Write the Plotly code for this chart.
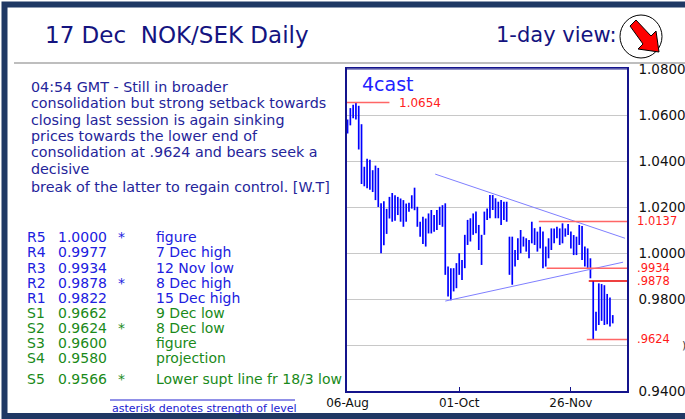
import plotly.graph_objects as go

# ---------------- data ----------------
bar_high = [1.0580, 1.0630, 1.0645, 1.0654, 1.0640, 1.0560, 1.0375, 1.0410, 1.0405, 1.0360,
            1.0380, 1.0370, 1.0216, 1.0225, 1.0192, 1.0244, 1.0261, 1.0251, 1.0244, 1.0237,
            1.0230, 1.0215, 1.0218, 1.0251, 1.0284, 1.0201, 1.0136, 1.0158, 1.0150, 1.0172,
            1.0187, 1.0165, 1.0187, 1.0201, 1.0208, 1.0216, 0.9941, 0.9934, 0.9934, 0.9956,
            0.9999, 0.9970, 1.0079, 1.0144, 1.0151, 1.0172, 1.0180, 1.0122, 1.0079, 1.0180,
            1.0194, 1.0252, 1.0252, 1.0238, 1.0223, 1.0230, 1.0223, 1.0223, 1.0071, 1.0071,
            1.0013, 1.0064, 1.0100, 1.0071, 1.0064, 1.0057, 1.0136, 1.0108, 1.0093, 1.0114,
            1.0093, 1.0028, 1.0064, 1.0107, 1.0107, 1.0114, 1.0107, 1.0129, 1.0107, 1.0126,
            1.0093, 1.0078, 1.0071, 1.0122, 1.0117, 1.0028, 1.0020, 0.9977, 0.9878, 0.9745,
            0.9868, 0.9865, 0.9860, 0.9822, 0.9806, 0.9730]
bar_low = [1.0520, 1.0555, 1.0586, 1.0580, 1.0450, 1.0300, 1.0290, 1.0282, 1.0275, 1.0265,
           1.0230, 1.0200, 0.9999, 1.0034, 1.0083, 1.0150, 1.0136, 1.0140, 1.0165, 1.0136,
           1.0114, 1.0136, 1.0179, 1.0193, 1.0186, 1.0114, 1.0071, 1.0039, 1.0028, 1.0085,
           1.0085, 1.0092, 1.0100, 1.0122, 1.0114, 0.9905, 0.9811, 0.9795, 0.9833, 0.9847,
           0.9905, 0.9883, 0.9934, 1.0035, 1.0050, 1.0079, 1.0086, 1.0013, 0.9948, 1.0079,
           1.0144, 1.0151, 1.0187, 1.0151, 1.0151, 1.0122, 1.0144, 1.0136, 0.9905, 0.9862,
           0.9941, 0.9970, 0.9999, 1.0028, 1.0006, 0.9977, 1.0042, 1.0035, 1.0006, 1.0020,
           0.9934, 0.9941, 0.9977, 1.0013, 1.0042, 1.0064, 1.0035, 1.0042, 1.0071, 1.0078,
           1.0020, 0.9991, 0.9991, 1.0035, 0.9970, 0.9941, 0.9930, 0.9890, 0.9624, 0.9662,
           0.9687, 0.9705, 0.9687, 0.9690, 0.9680, 0.9694]

x_tick_pos = [0, 40, 80]
x_tick_labels = ["06-Aug", "01-Oct", "26-Nov"]
y_tick_vals = [0.94, 0.96, 0.98, 1.00, 1.02, 1.04, 1.06, 1.08]
y_tick_labels = ["0.9400", "", "0.9800", "1.0000", "1.0200", "1.0400", "1.0600", "1.0800"]

# marked levels (value, bar index where the line starts, label)
mark_vals = [1.0137, 0.9934, 0.9878, 0.9624]
mark_start = [68.5, 71.3, 86.4, 85.7]
mark_labels = ["1.0137", ".9934", ".9878", ".9624"]
peak_val = 1.0654
peak_end = 15.0
peak_label = "1.0654"

# trend lines (bar index, value)
upper_x = [31.4, 99.4]
upper_y = [1.0343, 1.0064]
lower_x = [35.0, 98.7]
lower_y = [0.9791, 0.9960]

comment_lines = [
    "04:54 GMT - Still in broader",
    "consolidation but strong setback towards",
    "closing last session is again sinking",
    "prices towards the lower end of",
    "consolidation at .9624 and bears seek a",
    "decisive",
    "break of the latter to regain control. [W.T]",
]
lvl_names = ["R5", "R4", "R3", "R2", "R1", "S1", "S2", "S3", "S4", "S5"]
lvl_values = ["1.0000", "0.9977", "0.9934", "0.9878", "0.9822", "0.9662", "0.9624", "0.9600", "0.9580", "0.9566"]
lvl_stars = ["*", "", "", "*", "", "", "*", "", "", "*"]
lvl_desc = ["figure", "7 Dec high", "12 Nov low", "8 Dec high", "15 Dec high", "9 Dec low",
            "8 Dec low", "figure", "projection", "Lower supt line fr 18/3 low"]

# ---------------- layout helpers ----------------
W, H = 685, 419
PL, PR, PT, PB = 347, 627, 69, 391
FONT = "DejaVu Sans, Liberation Sans, Arial, sans-serif"


def px(x):
    return (x - PL) / (PR - PL)


def py(y):
    return (PB - y) / (PB - PT)


X_MIN, X_MAX = -0.2, 100.1

fig = go.Figure()

# bars
bx, by = [], []
for i, (h, l) in enumerate(zip(bar_high, bar_low)):
    bx += [i, i, None]
    by += [h, l, None]
fig.add_trace(go.Scatter(x=bx, y=by, mode="lines", line=dict(color="#0000ff", width=1.7),
                         hoverinfo="skip", showlegend=False))

# trend lines
for xs, ys in [(upper_x, upper_y), (lower_x, lower_y)]:
    fig.add_trace(go.Scatter(x=xs, y=ys, mode="lines", line=dict(color="#7f7fff", width=1),
                             hoverinfo="skip", showlegend=False))

# level lines
fig.add_trace(go.Scatter(x=[X_MIN, peak_end], y=[peak_val, peak_val], mode="lines",
                         line=dict(color="#ff6666", width=1.5), hoverinfo="skip", showlegend=False))
for v, s in zip(mark_vals, mark_start):
    col = "#e80000" if v == 0.9878 else "#ff6666"
    fig.add_trace(go.Scatter(x=[s, X_MAX], y=[v, v], mode="lines",
                             line=dict(color=col, width=1.5), hoverinfo="skip", showlegend=False))

ann = []
ann.append(dict(x=peak_end + 2.8, y=peak_val, xref="x", yref="y", text=peak_label, showarrow=False,
                xanchor="left", yanchor="middle", font=dict(family=FONT, size=12, color="#ff2020")))
for v, t in zip(mark_vals, mark_labels):
    ann.append(dict(x=px(635), y=v, xref="paper", yref="y", text=t, showarrow=False,
                    xanchor="left", yanchor="middle", font=dict(family=FONT, size=11.5, color="#ff1a1a")))
# partly cut-off glyph at the right edge
ann.append(dict(x=px(680), y=py(345), xref="paper", yref="paper", text=")", showarrow=False,
                xanchor="left", yanchor="middle", font=dict(family=FONT, size=11, color="#333333")))

# 4cast
ann.append(dict(x=px(360), y=py(84), xref="paper", yref="paper", text="4cast", showarrow=False,
                xanchor="left", yanchor="middle", font=dict(family=FONT, size=19, color="#2222ff")))

# titles
ann.append(dict(x=px(43), y=py(35), xref="paper", yref="paper", text="17 Dec  NOK/SEK Daily",
                showarrow=False, xanchor="left", yanchor="middle",
                font=dict(family=FONT, size=23, color="#141480")))
ann.append(dict(x=px(494), y=py(35), xref="paper", yref="paper", text="1-day view:",
                showarrow=False, xanchor="left", yanchor="middle",
                font=dict(family=FONT, size=21, color="#141480")))

# comment block
comment_y = [87, 103.3, 119.6, 135.9, 152.2, 168.5, 186.5]
for t, yy in zip(comment_lines, comment_y):
    ann.append(dict(x=px(29), y=py(yy), xref="paper", yref="paper", text=t, showarrow=False,
                    xanchor="left", yanchor="middle", font=dict(family=FONT, size=14.3, color="#24249a")))

# levels table
row_y = [236.7, 252.3, 267.7, 282.7, 298.3, 313.3, 328.3, 343.3, 358.3, 379.3]
col_x = [25, 56, 116, 154]
for n, v, s, d, yy in zip(lvl_names, lvl_values, lvl_stars, lvl_desc, row_y):
    col = "#2020e0" if n.startswith("R") else "#1a8a1a"
    for txt, xx in zip([n, v, s, d], col_x):
        if txt:
            ann.append(dict(x=px(xx), y=py(yy), xref="paper", yref="paper", text=txt, showarrow=False,
                            xanchor="left", yanchor="middle",
                            font=dict(family=FONT, size=14, color=col)))

ann.append(dict(x=px(110), y=py(408), xref="paper", yref="paper",
                text="asterisk denotes strength of level", showarrow=False,
                xanchor="left", yanchor="middle", font=dict(family=FONT, size=11, color="#2020d0")))

shapes = [
    # frame
    dict(type="rect", xref="paper", yref="paper", x0=px(4.5), x1=px(720), y0=py(416), y1=py(4.5),
         line=dict(color="#1f3864", width=6), fillcolor="rgba(0,0,0,0)", layer="above"),
    # grey rule under title
    dict(type="line", xref="paper", yref="paper", x0=px(14), x1=px(700), y0=py(63), y1=py(63),
         line=dict(color="#a8a8a8", width=1.5)),
    # lighter top edge of the plot box
    dict(type="line", xref="paper", yref="paper", x0=0, x1=1, y0=1, y1=1,
         line=dict(color="#6c6cb4", width=1.6), layer="above"),
    # footer rule
    dict(type="line", xref="paper", yref="paper", x0=px(110), x1=px(295), y0=py(400), y1=py(400),
         line=dict(color="#2020d0", width=1)),
    # view circle
    dict(type="circle", xref="paper", yref="paper", x0=px(620), x1=px(662), y0=py(58), y1=py(15),
         line=dict(color="#000000", width=1), fillcolor="white"),
]
# red arrow pointing down-right
arrow_pts = [(630, 26), (636, 20), (651, 36), (656, 31), (659, 52), (638, 49), (643, 44), (630, 26)]
path = "M " + " L ".join(f"{px(a)},{py(b)}" for a, b in arrow_pts) + " Z"
shapes.append(dict(type="path", xref="paper", yref="paper", path=path,
                   line=dict(color="#000000", width=1), fillcolor="#ff0000"))

fig.update_layout(
    width=W, height=H, autosize=False,
    margin=dict(l=PL, r=W - PR, t=PT, b=H - PB, pad=0, autoexpand=False),
    paper_bgcolor="white", plot_bgcolor="white",
    showlegend=False,
    annotations=ann, shapes=shapes,
    xaxis=dict(range=[X_MIN, X_MAX], tickmode="array", tickvals=x_tick_pos, ticktext=x_tick_labels,
               showgrid=False, zeroline=False, showline=True, linecolor="#14148c", linewidth=1.5,
               mirror=True, ticks="inside", ticklen=4, tickcolor="#14148c", automargin=False,
               tickfont=dict(family=FONT, size=12, color="#111111")),
    yaxis=dict(range=[0.94, 1.08], side="right", tickmode="array", tickvals=y_tick_vals,
               ticktext=y_tick_labels, showgrid=True, gridcolor="#c8c8c8", gridwidth=1,
               zeroline=False, showline=True, linecolor="#14148c", linewidth=1.5, mirror=True,
               ticks="", ticklabelstandoff=7, automargin=False,
               tickfont=dict(family=FONT, size=13.5, color="#111111")),
)

fig.write_html("out.html", config={"displayModeBar": False},
               post_script="document.body.style.margin='0px';document.body.style.overflow='hidden';")
